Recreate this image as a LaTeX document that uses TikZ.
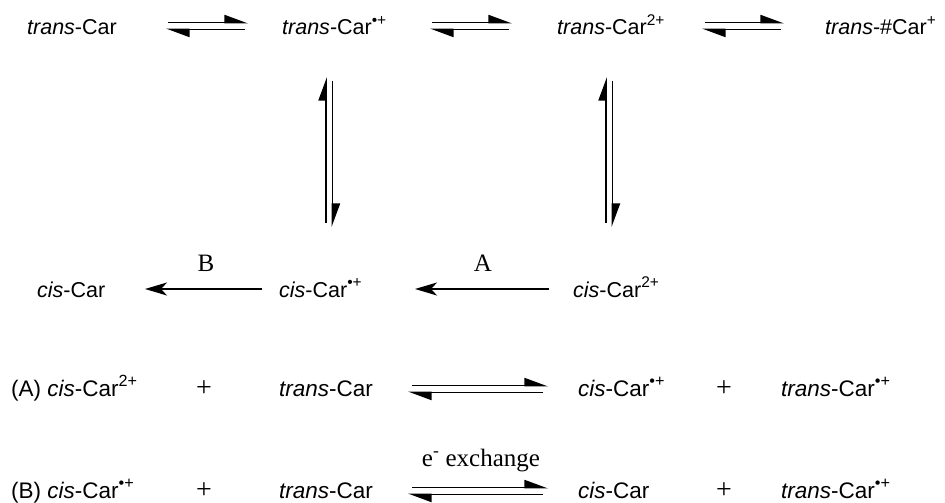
\documentclass[tikz,border=0pt]{standalone}
\usepackage{fontspec}
\setmainfont{Liberation Sans}
\newfontfamily\seriffont{Liberation Serif}
\usetikzlibrary{arrows.meta}

% raised charge marks, a little larger than \textsuperscript
\newcommand\charge[1]{\raisebox{0.42em}{\scalebox{0.72}{#1}}}
\newcommand\radcat{\charge{•+}}
\newcommand\dication{\charge{2+}}
\newcommand\cation{\charge{+}}

\tikzset{
  chem/.style={font=\fontsize{21.5}{25}\selectfont, inner sep=0pt, anchor=base west},
  eqn/.style={font=\fontsize{22.5}{26}\selectfont, inner sep=0pt, anchor=base west},
  plus/.style={font=\seriffont\fontsize{28}{30}\selectfont, inner sep=0pt, anchor=base},
  lbl/.style={font=\seriffont\fontsize{25}{28}\selectfont, inner sep=0pt, anchor=base},
  eqline/.style={line width=1.8pt, -{Triangle[harpoon,length=21pt,width=15pt]}},
  oneway/.style={line width=1.8pt, -{Stealth[length=22pt,width=13pt,inset=6pt]}}
}

\begin{document}
\begin{tikzpicture}[x=1pt,y=-1pt]
\useasboundingbox (0,0) rectangle (945,503);

% ---- top row: trans species
\node[chem] (t1) at (27,35) {\textit{trans}-Car};
\node[chem] (t2) at (282,35) {\textit{trans}-Car\radcat};
\node[chem] (t3) at (557,35) {\textit{trans}-Car\dication};
\node[chem] (t4) at (825,35) {\textit{trans}-\#Car\cation};

% horizontal equilibria of the top row
\coordinate (e1u) at (168,22.5); \coordinate (e1v) at (248,22.5);
\coordinate (e1w) at (245,29.5); \coordinate (e1x) at (166,29.5);
\coordinate (e2u) at (432,22.5); \coordinate (e2v) at (512,22.5);
\coordinate (e2w) at (509,29.5); \coordinate (e2x) at (430,29.5);
\coordinate (e3u) at (705,22.5); \coordinate (e3v) at (784,22.5);
\coordinate (e3w) at (781,29.5); \coordinate (e3x) at (702,29.5);
\foreach \n in {1,2,3}{
  \draw[eqline] (e\n u) -- (e\n v);
  \draw[eqline] (e\n w) -- (e\n x);
}

% ---- vertical equilibria
\coordinate (v1a) at (326,223); \coordinate (v1b) at (326,77);
\coordinate (v1c) at (332.5,81); \coordinate (v1d) at (332.5,227);
\coordinate (v2a) at (606,223); \coordinate (v2b) at (606,77);
\coordinate (v2c) at (612.5,81); \coordinate (v2d) at (612.5,227);
\draw[eqline] (v1a) -- (v1b);
\draw[eqline] (v1c) -- (v1d);
\draw[eqline] (v2a) -- (v2b);
\draw[eqline] (v2c) -- (v2d);

% ---- middle row: cis species
\node[chem] (c1) at (37,297) {\textit{cis}-Car};
\node[chem] (c2) at (279,297) {\textit{cis}-Car\radcat};
\node[chem] (c3) at (573,297) {\textit{cis}-Car\dication};

\coordinate (bR) at (262,289); \coordinate (bL) at (145,289);
\coordinate (aR) at (549,289); \coordinate (aL) at (415,289);
\draw[oneway] (bR) -- (bL);
\draw[oneway] (aR) -- (aL);
\node[lbl] (lb) at (206,271) {B};
\node[lbl] (la) at (483,271) {A};

% ---- reaction (A)
\node[eqn] (ra1) at (11,396) {(A) \textit{cis}-Car\dication};
\node[plus] (rap1) at (204,396) {+};
\node[eqn] (ra2) at (279,396) {\textit{trans}-Car};
\coordinate (ra1u) at (412,385.5); \coordinate (ra1v) at (548,385.5);
\coordinate (ra1w) at (543,392.5); \coordinate (ra1x) at (408,392.5);
\draw[eqline] (ra1u) -- (ra1v);
\draw[eqline] (ra1w) -- (ra1x);
\node[eqn] (ra3) at (578,396) {\textit{cis}-Car\radcat};
\node[plus] (rap2) at (724,396) {+};
\node[eqn] (ra4) at (781,396) {\textit{trans}-Car\radcat};

% ---- reaction (B)
\node[eqn] (rb1) at (11,498) {(B) \textit{cis}-Car\radcat};
\node[plus] (rbp1) at (204,498) {+};
\node[eqn] (rb2) at (279,498) {\textit{trans}-Car};
\coordinate (rb1u) at (412,487.5); \coordinate (rb1v) at (548,487.5);
\coordinate (rb1w) at (543,494.5); \coordinate (rb1x) at (408,494.5);
\draw[eqline] (rb1u) -- (rb1v);
\draw[eqline] (rb1w) -- (rb1x);
\node[lbl] (ex) at (481,466) {e\textsuperscript{-} exchange};
\node[eqn] (rb3) at (578,498) {\textit{cis}-Car};
\node[plus] (rbp2) at (724,498) {+};
\node[eqn] (rb4) at (781,498) {\textit{trans}-Car\radcat};
\end{tikzpicture}
\end{document}
